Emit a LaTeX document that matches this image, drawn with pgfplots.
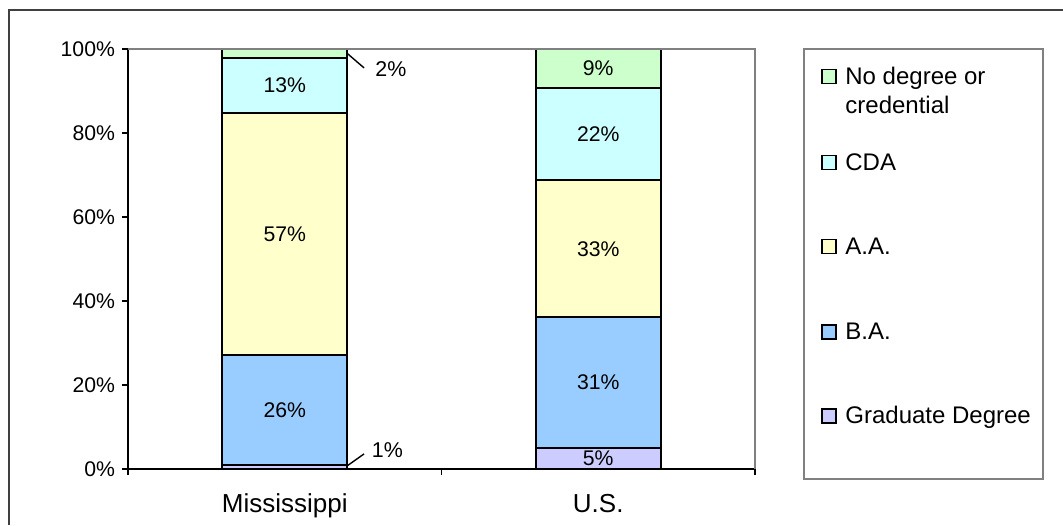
\documentclass[border=0pt]{standalone}
\usepackage{pgfplots}
\pgfplotsset{compat=1.18}
\usepackage{fontspec}
\setmainfont{Liberation Sans}
\definecolor{cgrad}{HTML}{CCCCFF}
\definecolor{cba}{HTML}{99CCFF}
\definecolor{caa}{HTML}{FFFFCC}
\definecolor{ccda}{HTML}{CCFFFF}
\definecolor{cno}{HTML}{CCFFCC}
\begin{document}
\begin{tikzpicture}
\useasboundingbox (0,0) rectangle (531.5pt,-262.5pt);
\draw[line width=0.75pt, black!75] (4.5pt,-262.5pt) -- (4.5pt,-5pt) -- (531.5pt,-5pt);
\begin{axis}[
 at={(64pt,-234.5pt)}, anchor=south west,
 scale only axis, width=313.5pt, height=210pt,
 xmin=-0.5, xmax=1.5, ymin=0, ymax=100,
 clip=false,
 ybar stacked, bar width=62.5pt,
 axis x line*=bottom, axis y line*=left,
 axis line style={black, line width=0.6pt, -},
 ytick={0,20,...,100}, yticklabels={0\%,20\%,40\%,60\%,80\%,100\%},
 yticklabel style={font=\fontsize{10.6}{12}\selectfont},
 xtick={-0.5,0.5,1.5}, xticklabels={},
 extra x ticks={0,1}, extra x tick labels={Mississippi,U.S.},
 extra x tick style={major tick length=0pt, tick style={draw=none}, xticklabel style={font=\fontsize{13}{15}\selectfont, anchor=base, yshift=-21.8pt, inner sep=0pt}},
 tick align=outside,
 major tick length=3pt,
 tick style={black, line width=0.6pt},
]
\draw[gray, line width=0.7pt] (rel axis cs:0,1) -- (rel axis cs:1,1) -- (rel axis cs:1,0);
\addplot[fill=cgrad, draw=black, line width=0.95pt] coordinates {(0,0.9) (1,5.0)};
\addplot[fill=cba, draw=black, line width=0.95pt] coordinates {(0,26.2) (1,31.1)};
\addplot[fill=caa, draw=black, line width=0.95pt] coordinates {(0,57.6) (1,32.7)};
\addplot[fill=ccda, draw=black, line width=0.95pt] coordinates {(0,13.2) (1,22.0)};
\addplot[fill=cno, draw=black, line width=0.95pt] coordinates {(0,2.1) (1,9.2)};
\end{axis}
\begin{axis}[
 at={(64pt,-234.5pt)}, anchor=south west,
 scale only axis, width=313.5pt, height=210pt,
 xmin=-0.5, xmax=1.5, ymin=0, ymax=100,
 clip=false, hide axis,
]
\addplot[draw=none, mark=none, nodes near coords, point meta=explicit symbolic,
  every node near coord/.append style={font=\fontsize{10.6}{12}\selectfont, anchor=center, inner sep=0pt}]
  coordinates {(0,14.0)[26\%] (0,55.9)[57\%] (0,91.3)[13\%] (1,2.5)[5\%] (1,20.6)[31\%] (1,52.4)[33\%] (1,79.8)[22\%] (1,95.4)[9\%]};
\addplot[draw=none, mark=none, nodes near coords, point meta=explicit symbolic,
  every node near coord/.append style={font=\fontsize{10.7}{12}\selectfont, anchor=west, inner sep=0pt}]
  coordinates {(0.288,95.2)[2\%] (0.277,4.5)[1\%]};
\addplot[black, line width=0.7pt, mark=none] coordinates {(0.2,98.9) (0.253,95.5)};
\addplot[black, line width=0.7pt, mark=none] coordinates {(0.2,0.8) (0.253,3.6)};
\end{axis}
% legend
\draw[gray, line width=0.6pt] (402pt,-24.5pt) rectangle (521.5pt,-239.5pt);
\begin{scope}[every node/.style={font=\fontsize{12}{14.7}\selectfont, inner sep=0pt, anchor=base west}]
\foreach \c/\t/\b in {cno/{No degree or}/-42, ccda/CDA/-85, caa/A.A./-127, cba/B.A./-169.7, cgrad/Graduate Degree/-211.7}{
  \draw[fill=\c, draw=black, line width=0.85pt] (411pt,\b pt+0.2pt) rectangle (418pt,\b pt+7.2pt);
  \node at (422.5pt,\b pt) {\t};
}
\node at (422.5pt,-56.7pt) {credential};
\end{scope}
\end{tikzpicture}
\end{document}
